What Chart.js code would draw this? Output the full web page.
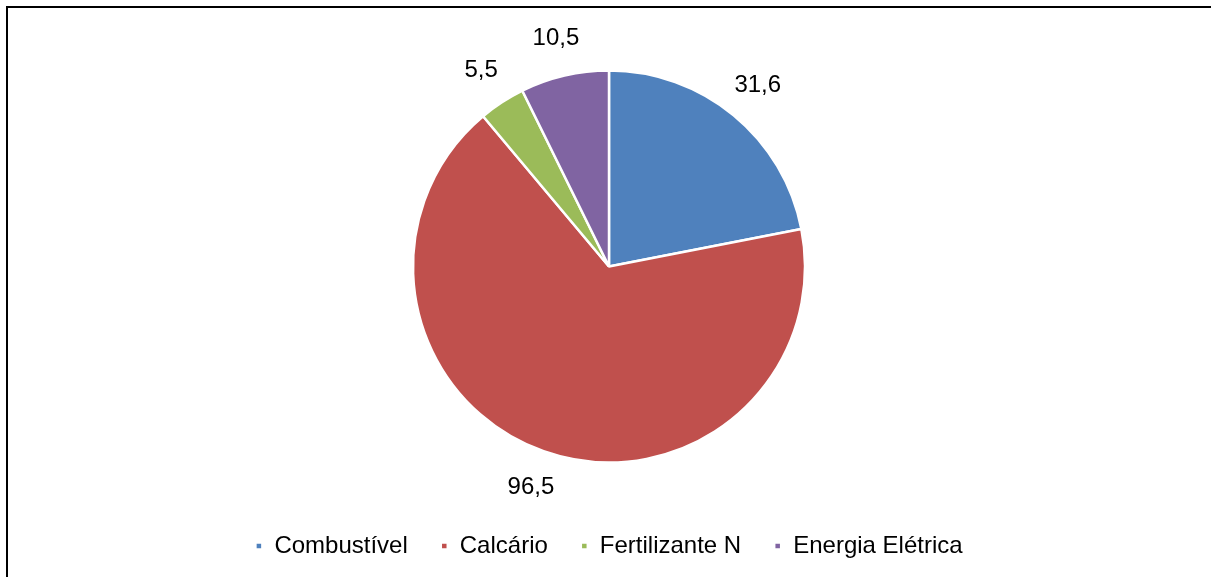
<!DOCTYPE html>
<html>
<head>
<meta charset="utf-8">
<script src="https://cdn.jsdelivr.net/npm/chart.js@4/dist/chart.umd.min.js"></script>
<style>
  html, body { margin: 0; padding: 0; background: #fff; }
  #wrap { position: relative; width: 1211px; height: 577px; overflow: hidden; }
  #frame { position: absolute; left: 6px; top: 6px; width: 1300px; height: 700px;
           border-left: 2px solid #000; border-top: 2px solid #000; }
  canvas { position: absolute; left: 0; top: 0; }
</style>
</head>
<body>
<div id="wrap">
  <div id="frame"></div>
  <canvas id="pieChart" width="1211" height="577"></canvas>
</div>
<script>
// Data
const categories = ['Combustível', 'Calcário', 'Fertilizante N', 'Energia Elétrica'];
const values = [31.6, 96.5, 5.5, 10.5];
const colors = ['#4F81BD', '#C0504D', '#9BBB59', '#8064A2'];

// Draws "31,6" style labels just outside each slice
const outsideLabels = {
  id: 'outsideLabels',
  afterDatasetsDraw(chart) {
    const ctx = chart.ctx;
    const meta = chart.getDatasetMeta(0);
    ctx.save();
    ctx.font = '24px "Liberation Sans", Arial, sans-serif';
    ctx.fillStyle = '#000';
    ctx.textAlign = 'center';
    ctx.textBaseline = 'middle';
    meta.data.forEach((arc, i) => {
      const p = arc.getProps(['x', 'y', 'startAngle', 'endAngle', 'outerRadius'], true);
      const mid = (p.startAngle + p.endAngle) / 2;
      const dist = p.outerRadius + 38;
      const x = p.x + Math.cos(mid) * dist;
      const y = p.y + Math.sin(mid) * dist;
      ctx.fillText(values[i].toFixed(1).replace('.', ','), x, y);
    });
    ctx.restore();
  }
};

const ctx = document.getElementById('pieChart').getContext('2d');
new Chart(ctx, {
  type: 'pie',
  data: {
    labels: categories,
    datasets: [{
      data: values,
      backgroundColor: colors,
      borderColor: '#FFFFFF',
      borderWidth: 2.5
    }]
  },
  plugins: [outsideLabels],
  options: {
    responsive: false,
    animation: false,
    radius: 196,
    layout: {
      padding: { top: 32, left: 7, right: 0, bottom: 9 }
    },
    plugins: {
      tooltip: { enabled: false },
      legend: {
        position: 'bottom',
        labels: {
          boxWidth: 7,
          boxHeight: 7,
          padding: 33,
          color: '#000',
          font: { family: '"Liberation Sans", Arial, sans-serif', size: 24 }
        }
      }
    }
  }
});
</script>
</body>
</html>
